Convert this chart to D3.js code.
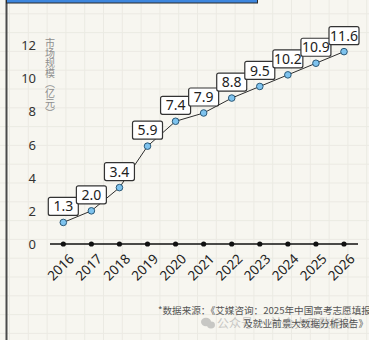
<!DOCTYPE html>
<html>
<head>
<meta charset="utf-8">
<script src="https://cdn.jsdelivr.net/npm/d3@7"></script>
<style>
	html, body { margin: 0; padding: 0; background: #f7f6f0; }
	svg { display: block; font-family: "Noto Sans", "Noto Sans CJK SC", sans-serif; }
</style>
</head>
<body>
<svg id="chart" width="369" height="340"></svg>
<script>
// data
const years = [2016, 2017, 2018, 2019, 2020, 2021, 2022, 2023, 2024, 2025, 2026];
const market_size = [1.3, 2.0, 3.4, 5.9, 7.4, 7.9, 8.8, 9.5, 10.2, 10.9, 11.6];
const y_ticks = [0, 2, 4, 6, 8, 10, 12];
const y_title = "市场规模（亿元）";
const source_lines = ["*数据来源：《艾媒咨询：2025年中国高考志愿填报", "及就业前景大数据分析报告》"];
const watermark = "公众号 · 社会大风数据站";

const svg = d3.select("#chart");
const W = 369, H = 340;

// background grid
const grid = svg.append("g");
grid.append("rect").attr("width", W).attr("height", H).attr("fill", "#f7f6f0");
const step = 18.8;
grid.selectAll(".gx")
	.data(d3.range(9.5, W, step))
	.enter().append("line")
	.attr("x1", d => d).attr("x2", d => d)
	.attr("y1", 0).attr("y2", H)
	.attr("stroke", "#ebeae3").attr("stroke-width", 1);
grid.selectAll(".gy")
	.data(d3.range(-5, H, step))
	.enter().append("line")
	.attr("y1", d => d).attr("y2", d => d)
	.attr("x1", 0).attr("x2", W)
	.attr("stroke", "#ebeae3").attr("stroke-width", 1);

// left frame line and top blue bar
svg.append("rect").attr("x", 5.5).attr("y", 0).attr("width", 2).attr("height", H).attr("fill", "#4a4a4a");
svg.append("rect").attr("x", 6.5).attr("y", -2).attr("width", 251).attr("height", 5)
	.attr("fill", "#3d86de").attr("stroke", "#2b2b2b").attr("stroke-width", 1);

const x = d3.scalePoint().domain(years).range([63.3, 344]);
const y = d3.scaleLinear().domain([0, 12]).range([244, 45]);

// y axis labels
const y_axis = d3.axisLeft(y).tickValues(y_ticks).tickSize(0).tickPadding(0).tickFormat(d3.format("d"));
const y_g = svg.append("g")
	.attr("transform", "translate(36,0)")
	.call(y_axis);
y_g.select(".domain").remove();
y_g.selectAll("text")
	.attr("font-family", "Noto Sans, sans-serif")
	.attr("font-size", 13)
	.attr("fill", "#333")
	.attr("dy", "0.35em");

// y title, vertical
svg.append("text")
	.attr("x", 50).attr("y", 38)
	.attr("font-size", 10)
	.attr("fill", "#8f8f8f")
	.style("writing-mode", "vertical-rl")
	.style("font-family", "'Noto Sans CJK SC', sans-serif")
	.text(y_title);

// x axis line with dots
svg.append("line")
	.attr("x1", 50).attr("x2", 358)
	.attr("y1", y(0)).attr("y2", y(0))
	.attr("stroke", "#111").attr("stroke-width", 1.5);
svg.append("g").selectAll("circle")
	.data(years)
	.enter().append("circle")
	.attr("cx", d => x(d)).attr("cy", y(0)).attr("r", 2.6)
	.attr("fill", "#111");
svg.append("g").selectAll("text")
	.data(years)
	.enter().append("text")
	.attr("transform", d => "translate(" + (x(d) + 5) + "," + (y(0) + 9) + ") rotate(-45)")
	.attr("text-anchor", "end")
	.attr("dy", "0.7em")
	.attr("font-size", 13.5)
	.attr("fill", "#222")
	.text(d => d);

// line + points
const pts = years.map((yr, i) => ({year: yr, value: market_size[i]}));
svg.append("path")
	.datum(pts)
	.attr("d", d3.line().x(d => x(d.year)).y(d => y(d.value)))
	.attr("fill", "none")
	.attr("stroke", "#2e2e2e")
	.attr("stroke-width", 1);

// value boxes
const box_w = 30, box_h = 18, gap = 7;
const labels = svg.append("g").selectAll("g")
	.data(pts)
	.enter().append("g")
	.attr("transform", d => "translate(" + x(d.year) + "," + (y(d.value) - gap - box_h) + ")");
labels.append("rect")
	.attr("x", -box_w / 2).attr("y", 0)
	.attr("width", box_w).attr("height", box_h)
	.attr("rx", 2)
	.attr("fill", "#fff")
	.attr("stroke", "#333")
	.attr("stroke-width", 1.2);
labels.append("text")
	.attr("x", 0).attr("y", box_h / 2)
	.attr("dy", "0.36em")
	.attr("text-anchor", "middle")
	.attr("font-size", 14)
	.attr("fill", "#222")
	.text(d => d.value.toFixed(1));

svg.append("g").selectAll("circle")
	.data(pts)
	.enter().append("circle")
	.attr("cx", d => x(d.year)).attr("cy", d => y(d.value)).attr("r", 3.3)
	.attr("fill", "#7ec3ee")
	.attr("stroke", "#2a5877")
	.attr("stroke-width", 1);

// watermark
const wm = svg.append("g").attr("opacity", 0.5);
wm.append("ellipse").attr("cx", 206).attr("cy", 322).attr("rx", 5).attr("ry", 4.2).attr("fill", "#999");
wm.append("ellipse").attr("cx", 211).attr("cy", 325).attr("rx", 4).attr("ry", 3.4).attr("fill", "#999");
wm.append("text")
	.attr("x", 217).attr("y", 328)
	.attr("font-size", 12)
	.attr("fill", "#999")
	.style("font-family", "'Noto Sans CJK SC', sans-serif")
	.text(watermark);

// source note
svg.append("text")
	.attr("x", 158).attr("y", 314)
	.attr("font-size", 9.6)
	.attr("fill", "#555")
	.style("font-family", "'Noto Sans CJK SC', sans-serif")
	.text(source_lines[0]);
svg.append("text")
	.attr("x", 368).attr("y", 326.5)
	.attr("text-anchor", "end")
	.attr("font-size", 9.6)
	.attr("fill", "#555")
	.style("font-family", "'Noto Sans CJK SC', sans-serif")
	.text(source_lines[1]);
</script>
</body>
</html>
